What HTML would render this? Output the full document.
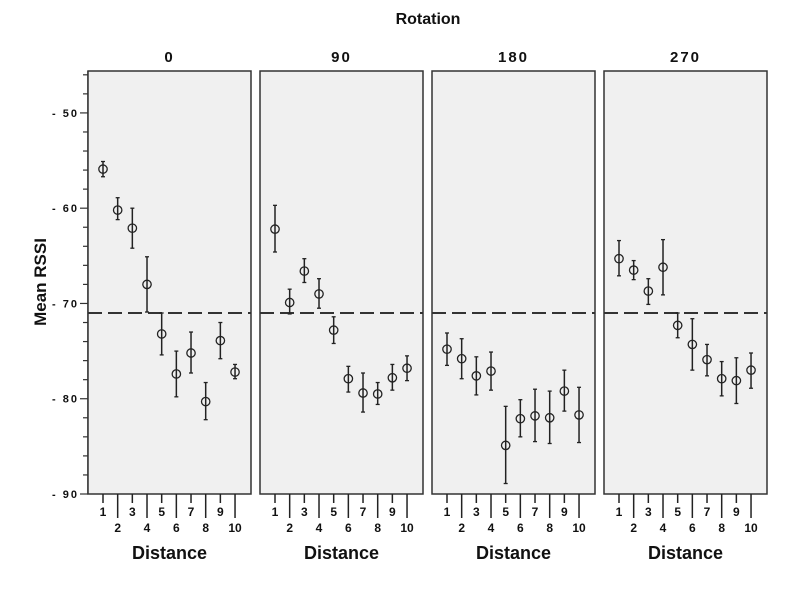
<!DOCTYPE html>
<html><head><meta charset="utf-8"><style>
body{margin:0;background:#fff}
svg text{font-family:"Liberation Sans",sans-serif;font-weight:bold;fill:#111}
</style></head><body>
<svg id="c" width="798" height="600" xmlns="http://www.w3.org/2000/svg">
<text x="428" y="24" font-size="16" text-anchor="middle">Rotation</text>
<text transform="translate(46,282) rotate(-90)" font-size="17" text-anchor="middle">Mean RSSI</text>
</svg>
<script>
const panels=["0","90","180","270"];
const distances=[1,2,3,4,5,6,7,8,9,10];
const yTicks=[-50,-60,-70,-80,-90];
const refLine=-71;
const means0=[-55.9,-60.2,-62.1,-68.0,-73.2,-77.4,-75.2,-80.3,-73.9,-77.2];
const lo0=[-56.7,-61.2,-64.2,-70.9,-75.4,-79.8,-77.3,-82.2,-75.8,-77.9];
const hi0=[-55.1,-58.9,-60.0,-65.1,-71.0,-75.0,-73.0,-78.3,-72.0,-76.4];
const means90=[-62.2,-69.9,-66.6,-69.0,-72.8,-77.9,-79.4,-79.5,-77.8,-76.8];
const lo90=[-64.6,-71.1,-67.8,-70.5,-74.2,-79.3,-81.4,-80.6,-79.1,-78.1];
const hi90=[-59.7,-68.5,-65.3,-67.4,-71.4,-76.6,-77.3,-78.3,-76.4,-75.5];
const means180=[-74.8,-75.8,-77.6,-77.1,-84.9,-82.1,-81.8,-82.0,-79.2,-81.7];
const lo180=[-76.5,-77.9,-79.6,-79.1,-88.9,-84.0,-84.5,-84.7,-81.3,-84.6];
const hi180=[-73.1,-73.7,-75.6,-75.1,-80.8,-80.1,-79.0,-79.2,-77.0,-78.8];
const means270=[-65.3,-66.5,-68.7,-66.2,-72.3,-74.3,-75.9,-77.9,-78.1,-77.0];
const lo270=[-67.1,-67.5,-70.1,-69.1,-73.6,-77.0,-77.6,-79.7,-80.5,-78.9];
const hi270=[-63.4,-65.5,-67.4,-63.3,-71.0,-71.6,-74.3,-76.1,-75.7,-75.2];
const M=[means0,means90,means180,means270],L=[lo0,lo90,lo180,lo270],H=[hi0,hi90,hi180,hi270];
const NS="http://www.w3.org/2000/svg",svg=document.getElementById('c');
const yMin=-90,yMax=-45.6,pTop=71,bot=494,lefts=[88,260,432,604],pw=163;
const y=v=>bot-(v-yMin)/(yMax-yMin)*(bot-pTop);
function mk(t,a,p){const e=document.createElementNS(NS,t);for(const k in a)e.setAttribute(k,a[k]);(p||svg).appendChild(e);return e;}
mk('line',{x1:88,x2:88,y1:pTop,y2:bot,stroke:'#333','stroke-width':1.5});
for(let v=-90;v<=-46;v+=2){mk('line',{x1:v%10===0?80:83,x2:88,y1:y(v),y2:y(v),stroke:'#333','stroke-width':1.2});}
yTicks.forEach(v=>{const t=mk('text',{x:79,y:y(v)+4,'font-size':11,'text-anchor':'end','letter-spacing':'2'});t.textContent=String(v).replace('-','- ');

});
panels.forEach((p,pi)=>{
 const L0=lefts[pi];
 const x=d=>L0+15+(d-1)*14.67;
 const g=mk('g',{});
 
 
 mk('rect',{x:L0,y:pTop,width:pw,height:bot-pTop,fill:'#f0f0f0',stroke:'#333','stroke-width':1.5},g);
 const h=mk('text',{x:L0+pw/2,y:62,'font-size':15,'text-anchor':'middle','letter-spacing':'2'},g);h.textContent=p;
 
 
 const rl=mk('line',{x1:L0,x2:L0+pw,y1:y(refLine),y2:y(refLine),stroke:'#333','stroke-width':2,'stroke-dasharray':'14,6'},g);
 
 
 distances.forEach((d,i)=>{
  const odd=d%2===1;
  mk('line',{x1:x(d),x2:x(d),y1:bot,y2:odd?503:518,stroke:'#222','stroke-width':1.5},g);
  const t=mk('text',{x:x(d),y:odd?516:532,'font-size':12,'text-anchor':'middle'},g);t.textContent=d;
  
  
  const e=mk('g',{},g);
  
  
  const cx=x(d);
  mk('line',{x1:cx,x2:cx,y1:y(H[pi][i]),y2:y(L[pi][i]),stroke:'#222','stroke-width':1.5},e);
  mk('line',{x1:cx-2,x2:cx+2,y1:y(H[pi][i]),y2:y(H[pi][i]),stroke:'#222','stroke-width':1.3},e);
  mk('line',{x1:cx-2,x2:cx+2,y1:y(L[pi][i]),y2:y(L[pi][i]),stroke:'#222','stroke-width':1.3},e);
  const c=mk('circle',{cx:cx,cy:y(M[pi][i]),r:4.2,fill:'none',stroke:'#222','stroke-width':1.3},g);
  
  
 });
 const xt=mk('text',{x:L0+pw/2,y:559,'font-size':18,'text-anchor':'middle'},g);xt.textContent='Distance';
 
 
});
</script>
</body></html>
